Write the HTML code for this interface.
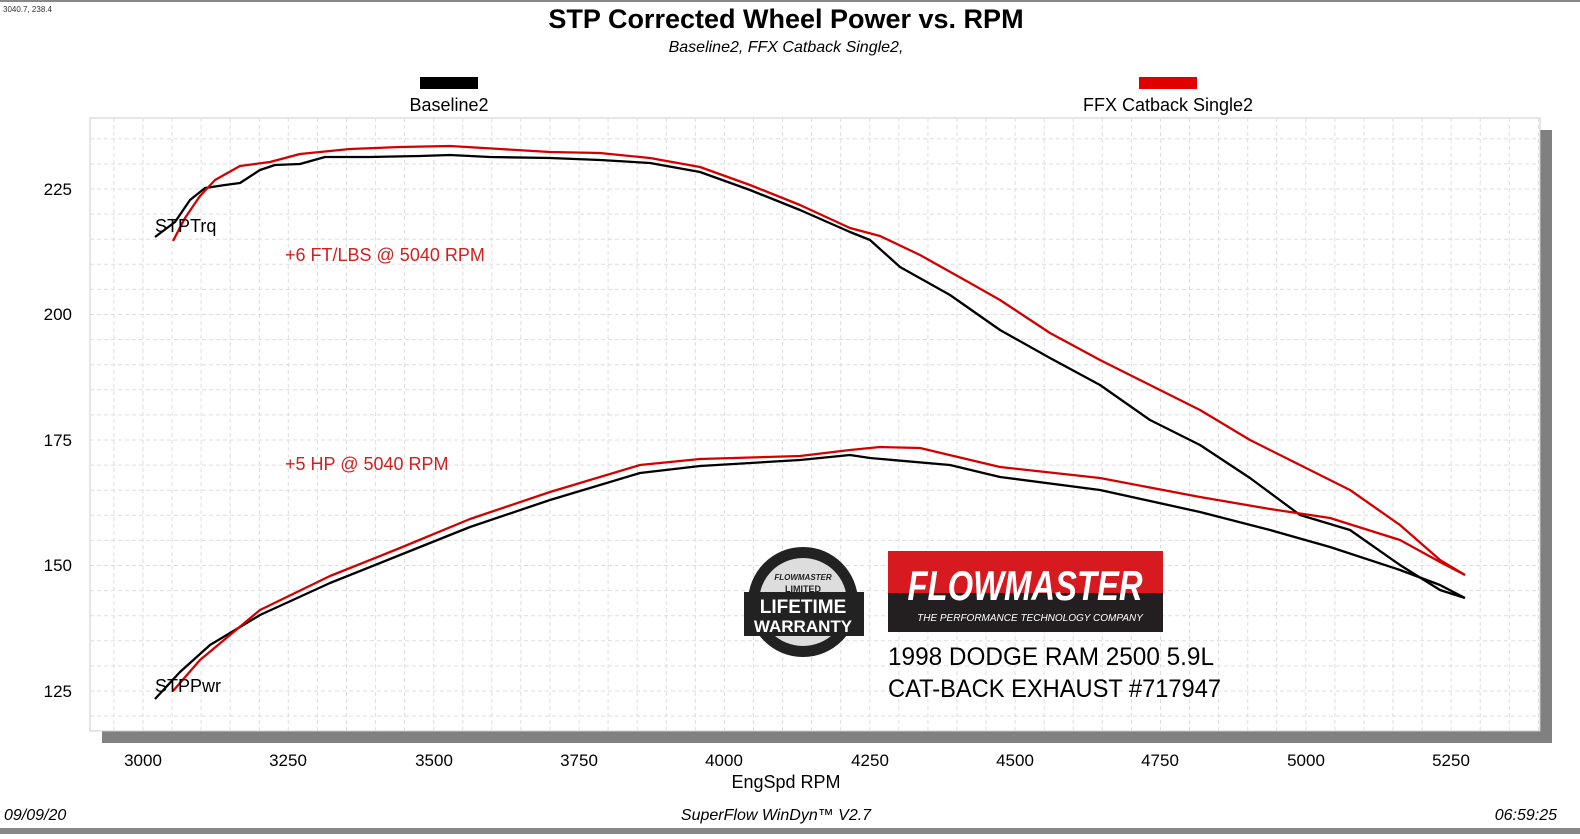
<!DOCTYPE html>
<html><head><meta charset="utf-8"><style>
body{margin:0;background:#fff;width:1580px;height:834px;overflow:hidden;font-family:"Liberation Sans",Arial,sans-serif}
</style></head><body>
<svg width="1580" height="834" viewBox="0 0 1580 834" xmlns="http://www.w3.org/2000/svg" font-family="Liberation Sans, Arial, sans-serif">
<rect x="0" y="0" width="1580" height="2" fill="#888"/>
<rect x="0" y="828" width="1580" height="6" fill="#888"/>
<text x="3" y="12" font-size="8" fill="#333">3040.7, 238.4</text>
<text x="786" y="28" font-size="27" font-weight="bold" text-anchor="middle">STP Corrected Wheel Power vs. RPM</text>
<text x="786" y="52" font-size="16" font-style="italic" text-anchor="middle">Baseline2, FFX Catback Single2,</text>
<rect x="420" y="77" width="58" height="12" fill="#000"/>
<rect x="1139" y="77" width="58" height="12" fill="#e00000"/>
<text x="449" y="111" font-size="18" text-anchor="middle">Baseline2</text>
<text x="1168" y="111" font-size="18" text-anchor="middle">FFX Catback Single2</text>
<rect x="102" y="130" width="1450" height="613" fill="#808080"/>
<rect x="90" y="118" width="1450" height="613" fill="#fff" stroke="#ccc" stroke-width="1"/>
<g id="grid" stroke="#dedede" stroke-width="1" stroke-dasharray="4,3"></g>
<g font-size="17" text-anchor="middle">
<text x="143" y="766">3000</text><text x="288" y="766">3250</text><text x="434" y="766">3500</text><text x="579" y="766">3750</text><text x="724" y="766">4000</text><text x="870" y="766">4250</text><text x="1015" y="766">4500</text><text x="1160" y="766">4750</text><text x="1306" y="766">5000</text><text x="1451" y="766">5250</text>
</g>
<text x="786" y="788" font-size="18" text-anchor="middle">EngSpd  RPM</text>
<g font-size="17" text-anchor="end">
<text x="72" y="195">225</text><text x="72" y="320">200</text><text x="72" y="446">175</text><text x="72" y="571">150</text><text x="72" y="697">125</text>
</g>
<text x="4" y="820" font-size="16" font-style="italic">09/09/20</text>
<text x="776" y="820" font-size="16" font-style="italic" text-anchor="middle">SuperFlow WinDyn™ V2.7</text>
<text x="1557" y="820" font-size="16" font-style="italic" text-anchor="end">06:59:25</text>
<g fill="none" stroke-width="2.3" stroke-linejoin="round">
<polyline stroke="#000" points="155,237 175,222 190,200 205,188 225,185 240,183 260,170 275,165 300,164 325,157 370,157 420,156 450,155 490,157 550,158 600,160 650,163 700,172 750,190 800,210 850,232 870,240 900,267 950,295 1000,330 1050,358 1100,385 1150,420 1200,445 1250,478 1300,515 1350,530 1400,565 1440,590 1465,598"/>
<polyline stroke="#d40000" points="173,241 185,218 200,196 215,180 240,166 270,162 300,154 350,149 400,147 450,146 500,149 550,152 600,153 650,158 700,167 750,185 800,205 850,228 880,236 920,255 970,283 1000,300 1050,333 1100,360 1150,385 1200,410 1250,440 1300,465 1350,490 1400,525 1440,560 1465,575"/>
<polyline stroke="#000" points="155,699 180,672 210,645 260,615 330,583 400,555 470,527 550,500 640,473 700,466 800,460 850,455 870,458 950,465 1000,477 1100,490 1200,512 1270,530 1330,547 1400,570 1440,585 1465,598"/>
<polyline stroke="#d40000" points="173,691 200,660 260,610 330,576 400,548 470,519 550,492 640,465 700,459 800,456 850,450 880,447 920,448 1000,467 1100,478 1200,497 1270,509 1330,518 1400,540 1440,562 1465,575"/>
</g>
<text x="155" y="232" font-size="18">STPTrq</text>
<text x="155" y="692" font-size="18">STPPwr</text>
<text x="285" y="261" font-size="18" fill="#d02020">+6 FT/LBS @ 5040 RPM</text>
<text x="285" y="470" font-size="18" fill="#d02020">+5 HP @ 5040 RPM</text>
<circle cx="803" cy="602" r="55" fill="#222"/>
<circle cx="803" cy="602" r="44" fill="#ddd"/>
<rect x="744" y="592" width="120" height="44" fill="#222"/>
<text x="803" y="613" font-size="19" font-weight="bold" fill="#fff" text-anchor="middle">LIFETIME</text>
<text x="803" y="632" font-size="17" font-weight="bold" fill="#fff" text-anchor="middle">WARRANTY</text>
<text x="803" y="592" font-size="9" font-weight="bold" fill="#222" text-anchor="middle">LIMITED</text>
<text x="803" y="580" font-size="8" font-style="italic" font-weight="bold" fill="#222" text-anchor="middle">FLOWMASTER</text>
<rect x="888" y="551" width="275" height="81" fill="#231f20"/>
<rect x="888" y="551" width="275" height="42" fill="#d71920"/>
<text x="1025" y="600" font-size="42" font-weight="bold" font-style="italic" fill="#fff" text-anchor="middle" textLength="235" lengthAdjust="spacingAndGlyphs">FLOWMASTER</text>
<text x="1030" y="621" font-size="10" font-style="italic" fill="#fff" text-anchor="middle">THE PERFORMANCE TECHNOLOGY COMPANY</text>
<text x="888" y="665" font-size="25" fill="#000" textLength="326" lengthAdjust="spacingAndGlyphs">1998 DODGE RAM 2500 5.9L</text>
<text x="888" y="697" font-size="25" fill="#000" textLength="333" lengthAdjust="spacingAndGlyphs">CAT-BACK EXHAUST #717947</text>
</svg>
<script>
(function(){
var g=document.getElementById('grid');
var frag=[];
for(var x=143-29.07;x<1540;x+=29.07){if(x>90)frag.push('<line x1="'+x.toFixed(1)+'" y1="118" x2="'+x.toFixed(1)+'" y2="731"/>');}
for(var y=189-25.1*2;y<731;y+=25.1){if(y>118)frag.push('<line x1="90" y1="'+y.toFixed(1)+'" x2="1540" y2="'+y.toFixed(1)+'"/>');}
g.innerHTML=frag.join('');
})();
</script>
</body></html>
